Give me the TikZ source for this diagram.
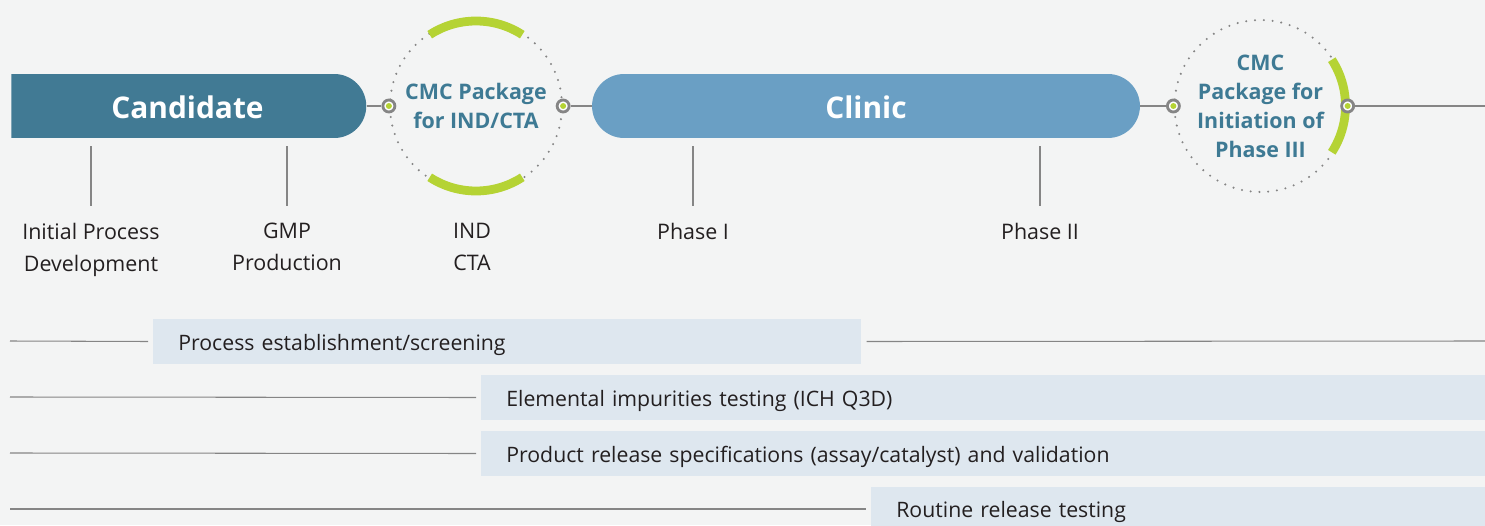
\documentclass[tikz,border=0pt]{standalone}
\usepackage{fontspec}
\setmainfont{Open Sans}
\usetikzlibrary{positioning,shapes.misc}
\definecolor{bgpaper}{HTML}{F3F4F4}
\definecolor{candblue}{HTML}{417A94}
\definecolor{clinicblue}{HTML}{6A9FC4}
\definecolor{cmcteal}{HTML}{3E7A94}
\definecolor{cmcgreen}{HTML}{B5D334}
\definecolor{linegray}{HTML}{858585}
\definecolor{taskblue}{HTML}{DEE7EF}
\definecolor{inkdark}{HTML}{231F20}

\begin{document}
\begin{tikzpicture}[
x=0.02cm, y=0.02cm,
stagebar/.style={
rounded rectangle,
fill=#1,
minimum height=1.28cm,
inner sep=0pt,
text=white,
text height=14.4pt,
text depth=0pt,
font=\bfseries\fontsize{17}{20}\selectfont
},
package/.style={
circle,
draw=linegray,
line width=1.3pt,
dash pattern=on 0pt off 5pt,
line cap=round,
minimum size=3.44cm,
inner sep=0pt,
align=center,
text=cmcteal,
font=\bfseries\fontsize{12.2}{16.5}\selectfont
},
joint/.style={
circle,
draw=linegray,
line width=1.6pt,
fill=white,
minimum size=0.24cm,
inner sep=0pt,
path picture={\fill[cmcgreen] (path picture bounding box.center) circle (3);}
},
link/.style={draw=linegray, line width=1.6pt},
ring/.style={draw=cmcgreen, line width=5pt},
tick/.style={draw=linegray, line width=0.6pt},
milestone/.style={
align=center,
anchor=north,
text=inkdark,
font=\fontsize{12.2}{18.2}\selectfont
},
task/.style={
anchor=west,
fill=taskblue,
text width=#1,
align=left,
inner xsep=0.5cm,
inner ysep=0pt,
minimum height=0.9cm,
text height=1.23em,
text depth=0.25em,
text=inkdark,
font=\fontsize{12.1}{14}\selectfont
},
rowline/.style={draw=linegray, line width=0.6pt}
]

\fill[bgpaper] (0,0) rectangle (1485,525);
\useasboundingbox (0,0) rectangle (1485,525);

\node[stagebar=candblue, rounded rectangle left arc=none, minimum width=7.1cm]
(candidate) at (187.5,419) {Candidate};
\node[package] (indpkg) at (476,419) {CMC Package\\for IND/CTA};
\node[stagebar=clinicblue, minimum width=10.96cm] (clinic) at (866,419) {Clinic};
\node[package] (phasepkg) at (1260.5,419) {CMC\\Package for\\Initiation of\\Phase III};
\coordinate (lineend) at (1485,419);

\draw[ring] ([shift={(57:85)}]indpkg.center) arc (57:123:85);
\draw[ring] ([shift={(237:85)}]indpkg.center) arc (237:303:85);
\draw[ring] ([shift={(-33:85)}]phasepkg.center) arc (-33:33:85);

\node[joint] (indin) at (indpkg.west) {};
\node[joint] (indout) at (indpkg.east) {};
\node[joint] (phasein) at (phasepkg.west) {};
\node[joint] (phaseout) at (phasepkg.east) {};

\draw[link] (candidate.east) -- (indin);
\draw[link] (indout) -- (clinic.west);
\draw[link] (clinic.east) -- (phasein);
\draw[link] (phaseout) -- (lineend);

\node[milestone] (development) at (91,308) {Initial Process\\Development};
\node[milestone] (gmp) at (287,308) {GMP\\Production};
\node[milestone] (ind) at (472,308) {IND\\CTA};
\node[milestone] (phaseone) at (693,308) {Phase I};
\node[milestone] (phasetwo) at (1040,308) {Phase II};

\foreach \m in {development,gmp,phaseone,phasetwo}
\draw[tick] ([yshift=6.5pt]\m.north) -- ([yshift=40.5pt]\m.north);

\node[task=13.16cm] (screening) at (153,183.5) {Process establishment/screening};
\node[task=19.08cm] (impurities) at (481,127.5) {Elemental impurities testing (ICH Q3D)};
\node[task=19.08cm] (release) at (481,71.5) {Product release specifications (assay/catalyst) and validation};
\node[task=11.28cm] (routine) at (871,16) {Routine release testing};

\coordinate (screenstart) at (10,184);
\coordinate (screenend) at (1485,184);
\coordinate (impstart) at (10,128);
\coordinate (relstart) at (10,72);
\coordinate (routstart) at (10,16);

\draw[rowline] (screenstart) -- ([xshift=-0.1cm]screening.west);
\draw[rowline] ([xshift=0.1cm]screening.east) -- (screenend);
\draw[rowline] (impstart) -- ([xshift=-0.1cm]impurities.west);
\draw[rowline] (relstart) -- ([xshift=-0.1cm]release.west);
\draw[rowline] (routstart) -- ([xshift=-0.1cm]routine.west);

\end{tikzpicture}
\end{document}
